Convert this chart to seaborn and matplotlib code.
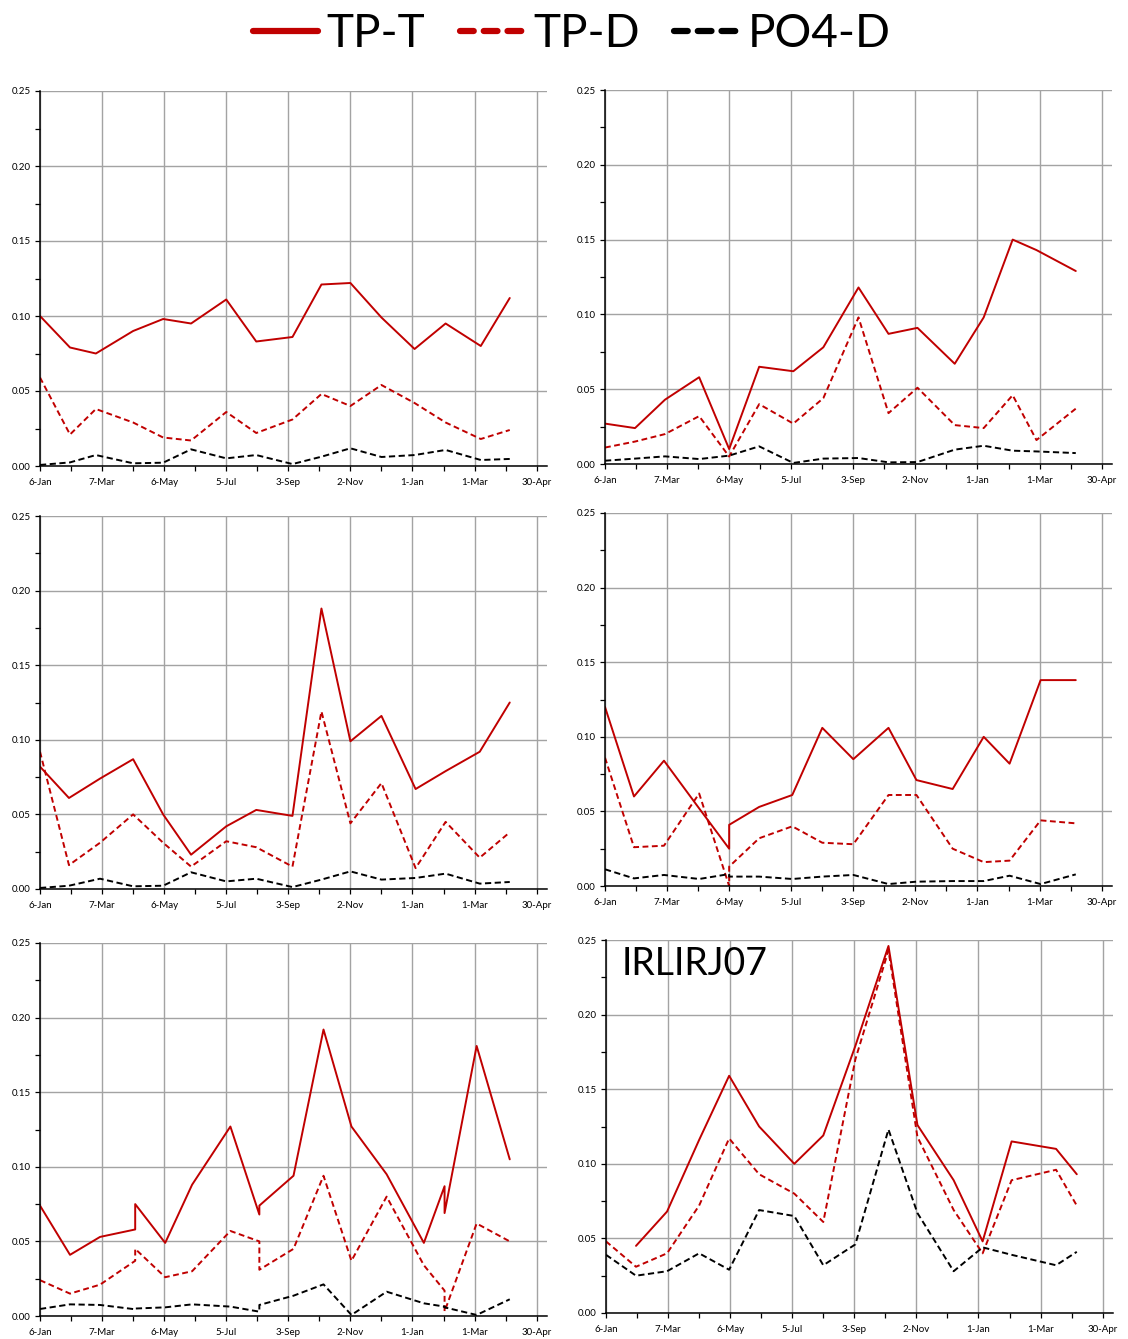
import matplotlib
matplotlib.use("Agg")
import matplotlib.pyplot as plt
import matplotlib.dates as mdates
from matplotlib.lines import Line2D
from matplotlib.ticker import MultipleLocator
import numpy as np
import pandas as pd
import seaborn as sns

# ---------------------------------------------------------------- data
SERIES = ["TP-T", "TP-D", "PO4-D"]

p1_dates = ["2015-01-06", "2015-02-04", "2015-03-01", "2015-04-06", "2015-05-05", "2015-06-01",
            "2015-07-05", "2015-08-03", "2015-09-07", "2015-10-05", "2015-11-02", "2015-12-02",
            "2016-01-03", "2016-02-02", "2016-03-07", "2016-04-04"]
p1_tpt = [0.100, 0.079, 0.075, 0.090, 0.098, 0.095, 0.111, 0.083, 0.086, 0.121, 0.122, 0.099,
          0.078, 0.095, 0.080, 0.112]
p1_tpd = [0.059, 0.021, 0.038, 0.029, 0.019, 0.017, 0.036, 0.022, 0.031, 0.048, 0.040, 0.054,
          0.042, 0.029, 0.018, 0.024]
p1_po4 = [0.0007, 0.0024, 0.0073, 0.0018, 0.0022, 0.0111, 0.0051, 0.0073, 0.0013, 0.0062,
          0.0118, 0.0060, 0.0073, 0.0107, 0.0040, 0.0047]

p2_dates = ["2015-01-06", "2015-02-04", "2015-03-05", "2015-04-07", "2015-05-06", "2015-06-04",
            "2015-07-07", "2015-08-05", "2015-09-08", "2015-10-07", "2015-11-04", "2015-12-10",
            "2016-01-07", "2016-02-04", "2016-02-27", "2016-04-05"]
p2_tpt = [0.027, 0.024, 0.043, 0.058, 0.010, 0.065, 0.062, 0.078, 0.118, 0.087, 0.091, 0.067,
          0.098, 0.150, 0.143, 0.129]
p2_tpd = [0.011, 0.015, 0.020, 0.032, 0.005, 0.040, 0.027, 0.044, 0.098, 0.034, 0.051, 0.026,
          0.024, 0.046, 0.016, 0.037]
p2_po4 = [0.0022, 0.0036, 0.0051, 0.0033, 0.0056, 0.0118, 0.0007, 0.0036, 0.0040, 0.0011,
          0.0013, 0.0096, 0.0122, 0.0089, 0.0084, 0.0073]

p3_dates = ["2015-01-06", "2015-02-03", "2015-03-05", "2015-04-06", "2015-05-05", "2015-06-01",
            "2015-07-05", "2015-08-03", "2015-09-07", "2015-10-05", "2015-11-02", "2015-12-02",
            "2016-01-04", "2016-02-02", "2016-03-06", "2016-04-04"]
p3_tpt = [0.082, 0.061, 0.074, 0.087, 0.050, 0.023, 0.042, 0.053, 0.049, 0.188, 0.099, 0.116,
          0.067, 0.079, 0.092, 0.125]
p3_tpd = [0.092, 0.016, 0.031, 0.050, 0.031, 0.015, 0.032, 0.028, 0.015, 0.119, 0.044, 0.071,
          0.014, 0.045, 0.021, 0.038]
p3_po4 = [0.0007, 0.0022, 0.0069, 0.0018, 0.0022, 0.0112, 0.0051, 0.0069, 0.0013, 0.0063,
          0.0118, 0.0063, 0.0074, 0.0103, 0.0036, 0.0047]

p4_dates = ["2015-01-06", "2015-02-03", "2015-03-04", "2015-04-07", "2015-05-06", "2015-05-06",
            "2015-06-04", "2015-07-06", "2015-08-04", "2015-09-03", "2015-10-07", "2015-11-03",
            "2015-12-08", "2016-01-07", "2016-02-01", "2016-03-02", "2016-04-05"]
p4_tpt = [0.120, 0.060, 0.084, 0.052, 0.025, 0.041, 0.053, 0.061, 0.106, 0.085, 0.106, 0.071,
          0.065, 0.100, 0.082, 0.138, 0.138]
p4_tpd = [0.086, 0.026, 0.027, 0.062, 0.000, 0.013, 0.032, 0.040, 0.029, 0.028, 0.061, 0.061,
          0.025, 0.016, 0.017, 0.044, 0.042]
p4_po4 = [0.0112, 0.0051, 0.0074, 0.0047, 0.0080, 0.0063, 0.0063, 0.0047, 0.0063, 0.0074,
          0.0013, 0.0029, 0.0033, 0.0033, 0.0069, 0.0013, 0.0078]

p5_dates = ["2015-01-06", "2015-02-04", "2015-03-05", "2015-04-08", "2015-04-08", "2015-05-07",
            "2015-06-02", "2015-07-09", "2015-08-06", "2015-08-06", "2015-09-08", "2015-10-07",
            "2015-11-03", "2015-12-07", "2016-01-12", "2016-02-01", "2016-02-01", "2016-03-03",
            "2016-04-04"]
p5_tpt = [0.074, 0.041, 0.053, 0.058, 0.075, 0.049, 0.088, 0.127, 0.068, 0.074, 0.094, 0.192,
          0.127, 0.095, 0.049, 0.087, 0.069, 0.181, 0.105]
p5_tpd = [0.024, 0.015, 0.021, 0.037, 0.045, 0.026, 0.030, 0.057, 0.050, 0.031, 0.045, 0.094,
          0.037, 0.080, 0.034, 0.017, 0.003, 0.062, 0.050]
p5_po4 = [0.0047, 0.0078, 0.0074, 0.0045, 0.0050, 0.0058, 0.0078, 0.0063, 0.0029, 0.0074,
          0.0136, 0.0212, 0.0007, 0.0163, 0.0085, 0.0063, 0.0058, 0.0007, 0.0112]

p6_dates = ["2015-01-06", "2015-02-04", "2015-03-06", "2015-04-06", "2015-05-05", "2015-06-03",
            "2015-07-07", "2015-08-04", "2015-09-04", "2015-10-06", "2015-11-03", "2015-12-08",
            "2016-01-05", "2016-02-02", "2016-03-16", "2016-04-05"]
p6_tpt = [np.nan, 0.045, 0.068, 0.116, 0.159, 0.125, 0.100, 0.119, 0.179, 0.246, 0.126, 0.089,
          0.048, 0.115, 0.110, 0.093]
p6_tpd = [0.048, 0.031, 0.040, 0.072, 0.117, 0.093, 0.080, 0.061, 0.170, 0.243, 0.118, 0.069,
          0.040, 0.089, 0.096, 0.072]
p6_po4 = [0.039, 0.025, 0.028, 0.040, 0.029, 0.069, 0.065, 0.032, 0.046, 0.123, 0.067, 0.028,
          0.044, 0.039, 0.032, 0.041]

panels = [
    (p1_dates, p1_tpt, p1_tpd, p1_po4, None),
    (p2_dates, p2_tpt, p2_tpd, p2_po4, None),
    (p3_dates, p3_tpt, p3_tpd, p3_po4, None),
    (p4_dates, p4_tpt, p4_tpd, p4_po4, None),
    (p5_dates, p5_tpt, p5_tpd, p5_po4, None),
    (p6_dates, p6_tpt, p6_tpd, p6_po4, "IRLIRJ07"),
]

# ---------------------------------------------------------------- style
sns.set_theme(style="white")
plt.rcParams["font.family"] = ["Lato", "DejaVu Sans"]
plt.rcParams["text.color"] = "black"

RED = "#C00000"
PALETTE = {"TP-T": RED, "TP-D": RED, "PO4-D": "#000000"}
DASHES = {"TP-T": "", "TP-D": (3, 1.8), "PO4-D": (3.2, 1.8)}
GRID = "#A3A3A3"

x_start = pd.Timestamp("2015-01-06")
x_end = pd.Timestamp("2016-05-10")
major_ticks = pd.date_range(x_start, periods=9, freq="60D")
minor_ticks = pd.date_range(x_start + pd.Timedelta(days=30), periods=8, freq="60D")

fig = plt.figure(figsize=(11.28, 13.39), dpi=100)

W, H = 1128.0, 1339.0
# (left px, top px of 0.25, bottom px of 0.00)
boxes = [(40, 91, 466), (605, 90, 464),
         (40, 516, 889), (605, 513, 886),
         (40, 943, 1316), (606, 940, 1313)]
ax_w = 507


def draw_panel(ax, dates, tpt, tpd, po4, label):
    d = pd.to_datetime(dates)
    frames = []
    for name, vals in zip(SERIES, [tpt, tpd, po4]):
        frames.append(pd.DataFrame({"date": d, "value": vals, "series": name}))
    df = pd.concat(frames, ignore_index=True).dropna()
    sns.lineplot(data=df, x="date", y="value", hue="series", style="series",
                 hue_order=SERIES, style_order=SERIES, palette=PALETTE, dashes=DASHES,
                 estimator=None, sort=False, lw=1.4, legend=False, ax=ax, zorder=3)

    ax.set_xlim(x_start, x_end)
    ax.set_ylim(0, 0.25)
    ax.set_xticks(major_ticks)
    ax.set_xticks(minor_ticks, minor=True)
    ax.xaxis.set_major_formatter(mdates.DateFormatter("%-d-%b"))
    ax.yaxis.set_major_locator(MultipleLocator(0.05))
    ax.yaxis.set_minor_locator(MultipleLocator(0.025))
    ax.yaxis.set_major_formatter(matplotlib.ticker.FormatStrFormatter("%.2f"))

    ax.grid(True, which="major", color=GRID, lw=1.0, zorder=0)
    ax.set_axisbelow(True)
    for s in ["top", "right"]:
        ax.spines[s].set_visible(False)
    for s in ["left", "bottom"]:
        ax.spines[s].set_color("black")
        ax.spines[s].set_linewidth(1.1)
        ax.spines[s].set_zorder(4)

    ax.tick_params(axis="both", which="both", direction="out", length=3.5, width=0.9,
                   colors="black", labelsize=7, left=True, bottom=True)
    ax.tick_params(axis="x", which="major", pad=5)
    ax.tick_params(axis="y", which="major", pad=3)
    ax.set_xlabel("")
    ax.set_ylabel("")
    if label:
        ax.text(0.03, 0.985, label, transform=ax.transAxes, ha="left", va="top",
                fontsize=27, color="black", zorder=5)


for (left, top, bottom), (dates, tpt, tpd, po4, label) in zip(boxes, panels):
    ax = fig.add_axes([left / W, 1 - bottom / H, ax_w / W, (bottom - top) / H])
    draw_panel(ax, dates, tpt, tpd, po4, label)

handles = [
    Line2D([], [], color=RED, lw=4.5, solid_capstyle="round"),
    Line2D([], [], color=RED, lw=4.5, dashes=(2.2, 1.6), dash_capstyle="round"),
    Line2D([], [], color="black", lw=4.5, dashes=(2.2, 1.6), dash_capstyle="round"),
]
fig.legend(handles, SERIES, loc="upper center", bbox_to_anchor=(0.507, 1.021), ncol=3,
           frameon=False, fontsize=33, handlelength=1.4, handletextpad=0.2,
           columnspacing=0.75, labelcolor="black")

fig.savefig("out.png", dpi=100)
